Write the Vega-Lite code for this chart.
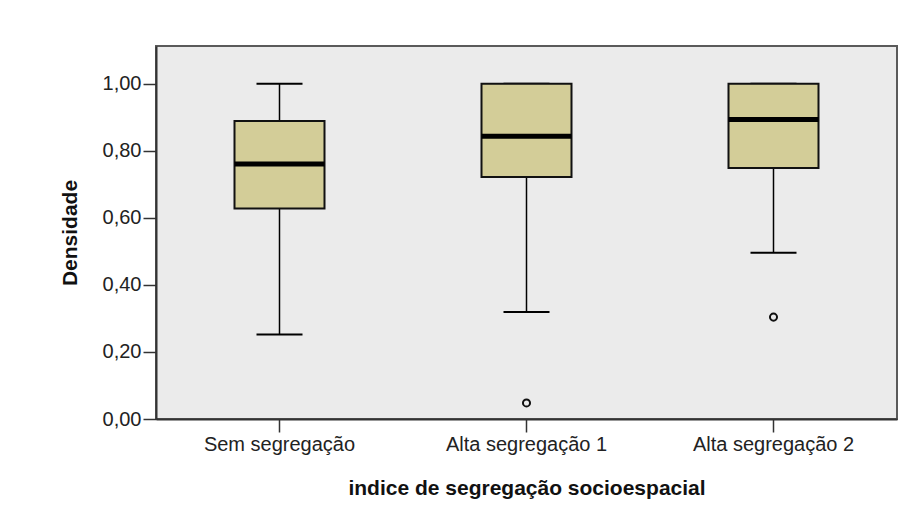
{
  "$schema": "https://vega.github.io/schema/vega-lite/v6.json",
  "autosize": "none",
  "width": 741,
  "height": 373,
  "padding": {"left": 156, "top": 46, "right": 23, "bottom": 96},
  "background": "white",
  "config": {
    "view": {"fill": "#ebebeb", "stroke": "#5a5a5a", "strokeWidth": 2},
    "font": "Liberation Sans"
  },
  "datasets": {
    "stats": [
      {"grupo": "Sem segregação", "lo": 0.252, "q1": 0.628, "median": 0.761, "q3": 0.889, "hi": 1.0},
      {"grupo": "Alta segregação 1", "lo": 0.319, "q1": 0.722, "median": 0.844, "q3": 1.0, "hi": 1.0},
      {"grupo": "Alta segregação 2", "lo": 0.496, "q1": 0.749, "median": 0.894, "q3": 1.0, "hi": 1.0}
    ],
    "outliers": [
      {"grupo": "Alta segregação 1", "densidade": 0.048},
      {"grupo": "Alta segregação 2", "densidade": 0.304}
    ]
  },
  "encoding": {
    "x": {
      "field": "grupo",
      "type": "nominal",
      "sort": ["Sem segregação", "Alta segregação 1", "Alta segregação 2"],
      "scale": {"paddingInner": 0, "paddingOuter": 0},
      "axis": {
        "title": "indice de segregação socioespacial",
        "labelAngle": 0,
        "labelFontSize": 20,
        "labelColor": "#222222",
        "labelPadding": 2,
        "tickSize": 13,
        "tickColor": "#333333",
        "tickWidth": 1.5,
        "domainColor": "#333333",
        "domainWidth": 2,
        "titleFontSize": 21,
        "titleFontWeight": "bold",
        "titleColor": "#111111",
        "titlePadding": 23
      }
    }
  },
  "layer": [
    {
      "data": {"name": "stats"},
      "mark": {"type": "rule", "color": "#000000", "strokeWidth": 1.5, "opacity": 1},
      "encoding": {
        "y": {
          "field": "lo",
          "type": "quantitative",
          "scale": {"domain": [0, 1.113], "nice": false, "zero": true},
          "axis": {
            "title": "Densidade",
            "values": [0, 0.2, 0.4, 0.6, 0.8, 1.0],
            "labelExpr": "replace(format(datum.value, '.2f'), '.', ',')",
            "labelFontSize": 20,
            "labelColor": "#222222",
            "labelPadding": 2,
            "tickSize": 13,
            "tickColor": "#333333",
            "tickWidth": 1.5,
            "domainColor": "#333333",
            "domainWidth": 2,
            "grid": false,
            "titleFontSize": 21,
            "titleFontWeight": "bold",
            "titleColor": "#111111",
            "titlePadding": 22
          }
        },
        "y2": {"field": "hi"}
      }
    },
    {
      "data": {"name": "stats"},
      "mark": {"type": "tick", "color": "#000000", "size": 46, "thickness": 2, "opacity": 1},
      "encoding": {"y": {"field": "lo", "type": "quantitative"}}
    },
    {
      "data": {"name": "stats"},
      "mark": {"type": "tick", "color": "#000000", "size": 46, "thickness": 2, "opacity": 1},
      "encoding": {"y": {"field": "hi", "type": "quantitative"}}
    },
    {
      "data": {"name": "stats"},
      "mark": {"type": "bar", "size": 90, "fill": "#d3cd98", "stroke": "#111111", "strokeWidth": 2, "opacity": 1},
      "encoding": {
        "y": {"field": "q1", "type": "quantitative"},
        "y2": {"field": "q3"}
      }
    },
    {
      "data": {"name": "stats"},
      "mark": {"type": "tick", "color": "#000000", "size": 90, "thickness": 5, "opacity": 1},
      "encoding": {"y": {"field": "median", "type": "quantitative"}}
    },
    {
      "data": {"name": "outliers"},
      "mark": {"type": "point", "shape": "circle", "filled": false, "size": 50, "stroke": "#111111", "strokeWidth": 2, "opacity": 1},
      "encoding": {"y": {"field": "densidade", "type": "quantitative"}}
    }
  ]
}
